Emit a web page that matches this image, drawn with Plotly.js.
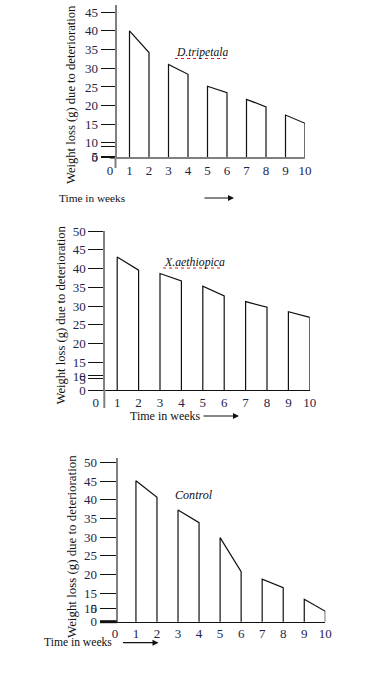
<!DOCTYPE html>
<html>
<head>
<meta charset="utf-8">
<script src="https://cdn.plot.ly/plotly-3.0.1.min.js"></script>
<style>html,body{margin:0;padding:0;background:#fff;}#chart{width:386px;height:673px;}</style>
</head>
<body>
<div id="chart"></div>
<script>
// ---- data ----
const weeks = [1, 2, 3, 4, 5, 6, 7, 8, 9, 10];
const tripetala = [40.0, 34.2, 31.0, 28.4, 25.2, 23.5, 21.7, 19.7, 17.5, 15.3];
const aethiopica = [43.1, 39.6, 38.7, 36.7, 35.3, 32.7, 31.2, 29.7, 28.5, 27.0];
const control = [45.1, 40.7, 37.3, 33.9, 29.9, 20.8, 18.8, 16.5, 13.4, 10.2];
const xTickVals = [0, 1, 2, 3, 4, 5, 6, 7, 8, 9, 10];
const xTickText = ['0', '1', '2', '3', '4', '5', '6', '7', '8', '9', '10'];
const panelNames = ['D.tripetala', 'X.aethiopica', 'Control'];
const yTitle = 'Weight loss (g) due to deterioration';
const xTitle = 'Time in weeks';
// hand-drawn y axes: labels and where they sit on each axis
const yTickText1 = ['0', '5', '', '10', '15', '20', '25', '30', '35', '40', '45'];
const yTickVals1 = [6.3, 6.35, 9.2, 10.1, 15, 20, 25, 30, 35, 40, 45];
const yTickText2 = ['0', '5', '10', '15', '20', '25', '30', '35', '40', '45', '50'];
const yTickVals2 = [7.6, 10.55, 11.35, 15, 20, 25, 30, 35, 40, 45, 50];
const yTickText3 = ['0', '5', '10', '15', '20', '25', '30', '35', '40', '45', '50'];
const yTickVals3 = [7.4, 10.95, 11.05, 15, 20, 25, 30, 35, 40, 45, 50];

// ---- helpers ----
const W = 386, H = 673;
const px = v => v / W;
const py = v => 1 - v / H;
const SERIF = '"Liberation Serif", "Times New Roman", serif';

function outline(xs, vs, xa, ya) {
  const x = [], y = [];
  for (let i = 0; i < xs.length; i += 2) {
    x.push(xs[i], xs[i], xs[i + 1], xs[i + 1], null);
    y.push(0, vs[i], vs[i + 1], 0, null);
  }
  return {type: 'scatter', mode: 'lines', x, y, xaxis: xa, yaxis: ya,
    line: {color: '#111', width: 1.2}, hoverinfo: 'skip'};
}

const data = [
  outline(weeks, tripetala, 'x', 'y'),
  outline(weeks, aethiopica, 'x2', 'y2'),
  outline(weeks, control, 'x3', 'y3')
];

function xAxis(d0, d1, yref, color, width) {
  return {domain: [px(d0), px(d1)], range: [0, 10], anchor: yref,
    tickmode: 'array', tickvals: xTickVals, ticktext: xTickText,
    ticks: '', showgrid: false, zeroline: false, showline: true,
    linecolor: color, linewidth: width, fixedrange: true,
    tickfont: {family: SERIF, size: 13, color: '#1e2448'}};
}
function yAxis(top, bottom, range, xpos, vals, text, tlen) {
  return {domain: [py(bottom), py(top)], range: range, anchor: 'free', position: px(xpos),
    tickmode: 'array', tickvals: vals, ticktext: text,
    ticks: 'outside', ticklen: tlen, tickwidth: 1, tickcolor: '#111',
    showgrid: false, zeroline: false, showline: true, linecolor: '#808080', linewidth: 2,
    fixedrange: true, tickfont: {family: SERIF, size: 13, color: '#1e2448'}};
}

const layout = {
  width: W, height: H,
  margin: {l: 0, r: 0, t: 0, b: 0},
  paper_bgcolor: '#fff', plot_bgcolor: '#fff',
  showlegend: false, hovermode: false,
  xaxis: xAxis(110, 305, 'y', '#808080', 2),
  yaxis: yAxis(5, 157, [6.3, 46.9], 115.5, yTickVals1, yTickText1, 14),
  xaxis2: xAxis(95.8, 309.8, 'y2', '#111', 1),
  yaxis2: yAxis(231, 390, [7.6, 50.05], 104.3, yTickVals2, yTickText2, 15),
  xaxis3: xAxis(114.9, 325.3, 'y3', '#111', 1),
  yaxis3: yAxis(458, 621.7, [7.4, 51.2], 116.7, yTickVals3, yTickText3, 16),
  shapes: [
    // y-axis lines running past the baseline, as drawn
    {type: 'line', xref: 'paper', yref: 'paper', x0: px(115.5), x1: px(115.5), y0: py(157), y1: py(168), line: {color: '#808080', width: 2}},
    {type: 'line', xref: 'paper', yref: 'paper', x0: px(104.3), x1: px(104.3), y0: py(390), y1: py(408), line: {color: '#808080', width: 2}},
    {type: 'line', xref: 'paper', yref: 'paper', x0: px(100), x1: px(116.7), y0: py(621.7), y1: py(621.7), line: {color: '#111', width: 3}},
    // spell-check underlines
    {type: 'line', xref: 'paper', yref: 'paper', x0: px(175), x1: px(226), y0: py(58.5), y1: py(58.5), line: {color: '#e02020', width: 1.2, dash: 'dot'}},
    {type: 'line', xref: 'paper', yref: 'paper', x0: px(163), x1: px(223), y0: py(268), y1: py(268), line: {color: '#e02020', width: 1.2, dash: 'dot'}}
  ],
  annotations: [
    {text: yTitle, xref: 'paper', yref: 'paper', x: px(71), y: py(95), textangle: -90, showarrow: false, xanchor: 'center', yanchor: 'middle', font: {family: SERIF, size: 12.6, color: '#111'}},
    {text: yTitle, xref: 'paper', yref: 'paper', x: px(60.5), y: py(315), textangle: -90, showarrow: false, xanchor: 'center', yanchor: 'middle', font: {family: SERIF, size: 12.6, color: '#111'}},
    {text: yTitle, xref: 'paper', yref: 'paper', x: px(72), y: py(547), textangle: -90, showarrow: false, xanchor: 'center', yanchor: 'middle', font: {family: SERIF, size: 12.9, color: '#111'}},
    {text: xTitle, xref: 'paper', yref: 'paper', x: px(57), y: py(198), showarrow: false, xanchor: 'left', yanchor: 'middle', font: {family: SERIF, size: 11.3, color: '#111'}},
    {text: xTitle, xref: 'paper', yref: 'paper', x: px(128), y: py(416), showarrow: false, xanchor: 'left', yanchor: 'middle', font: {family: SERIF, size: 12, color: '#111'}},
    {text: xTitle, xref: 'paper', yref: 'paper', x: px(42), y: py(642.7), showarrow: false, xanchor: 'left', yanchor: 'middle', font: {family: SERIF, size: 11.6, color: '#111'}},
    {text: '<i>' + panelNames[0] + '</i>', xref: 'paper', yref: 'paper', x: px(174), y: py(53), showarrow: false, xanchor: 'left', yanchor: 'middle', font: {family: SERIF, size: 11.6, color: '#111'}},
    {text: '<i>' + panelNames[1] + '</i>', xref: 'paper', yref: 'paper', x: px(162), y: py(262.3), showarrow: false, xanchor: 'left', yanchor: 'middle', font: {family: SERIF, size: 11.8, color: '#111'}},
    {text: '<i>' + panelNames[2] + '</i>', xref: 'paper', yref: 'paper', x: px(173), y: py(495), showarrow: false, xanchor: 'left', yanchor: 'middle', font: {family: SERIF, size: 12.1, color: '#111'}},
    {text: '', xref: 'paper', yref: 'paper', x: px(234), y: py(198), ax: -31, ay: 0, showarrow: true, arrowhead: 2, arrowsize: 1, arrowwidth: 1.2, arrowcolor: '#111'},
    {text: '', xref: 'paper', yref: 'paper', x: px(239), y: py(416), ax: -37, ay: 0, showarrow: true, arrowhead: 2, arrowsize: 1, arrowwidth: 1.2, arrowcolor: '#111'},
    {text: '', xref: 'paper', yref: 'paper', x: px(158.5), y: py(642.7), ax: -37, ay: 0, showarrow: true, arrowhead: 2, arrowsize: 1, arrowwidth: 1.2, arrowcolor: '#111'}
  ]
};

Plotly.newPlot('chart', data, layout, {staticPlot: true, displayModeBar: false});
</script>
</body>
</html>
